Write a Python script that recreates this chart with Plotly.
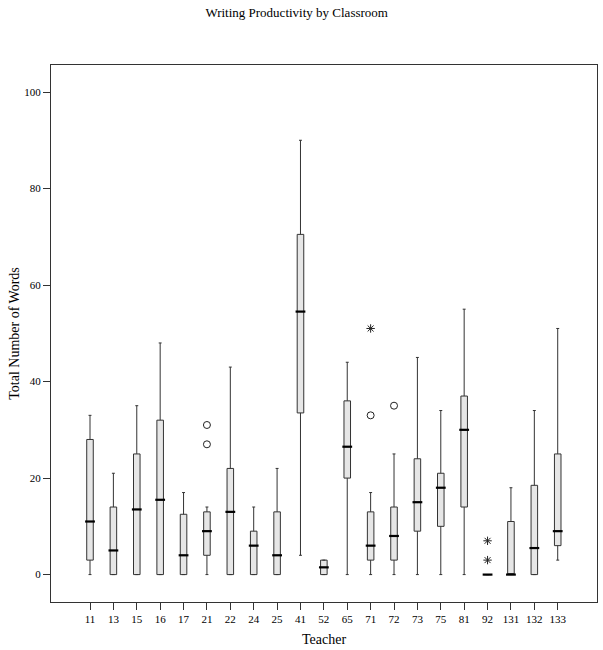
import plotly.graph_objects as go

teachers = ["11", "13", "15", "16", "17", "21", "22", "24", "25", "41",
            "52", "65", "71", "72", "73", "75", "81", "92", "131", "132", "133"]
lower = [0, 0, 0, 0, 0, 0, 0, 0, 0, 4, 0, 0, 0, 0, 0, 0, 0, 0, 0, 0, 3]
q1 = [3, 0, 0, 0, 0, 4, 0, 0, 0, 33.5, 0, 20, 3, 3, 9, 10, 14, 0, 0, 0, 6]
median = [11, 5, 13.5, 15.5, 4, 9, 13, 6, 4, 54.5, 1.5, 26.5, 6, 8, 15, 18, 30, 0, 0, 5.5, 9]
q3 = [28, 14, 25, 32, 12.5, 13, 22, 9, 13, 70.5, 3, 36, 13, 14, 24, 21, 37, 0, 11, 18.5, 25]
upper = [33, 21, 35, 48, 17, 14, 43, 14, 22, 90, 3, 44, 17, 25, 45, 34, 55, 0, 18, 34, 51]

circle_x = ["21", "21", "71", "72"]
circle_y = [31, 27, 33, 35]
star_x = ["71", "92", "92"]
star_y = [51, 7, 3]

FONT = "Liberation Serif"

fig = go.Figure()
fig.add_trace(go.Box(
    x=teachers, q1=q1, median=median, q3=q3,
    lowerfence=lower, upperfence=upper,
    boxpoints=False, width=0.28, whiskerwidth=0.45,
    fillcolor="#e6e6e6", line=dict(color="#333333", width=1),
    showlegend=False, hoverinfo="skip",
))
fig.add_trace(go.Scatter(
    x=teachers, y=median, mode="markers",
    marker=dict(symbol="line-ew-open", size=7, color="black", line=dict(color="black", width=2.2)),
    showlegend=False, hoverinfo="skip",
))
fig.add_trace(go.Scatter(
    x=circle_x, y=circle_y, mode="markers",
    marker=dict(symbol="circle-open", size=7, color="#222222", line=dict(color="#222222", width=1)),
    showlegend=False,
))
fig.add_trace(go.Scatter(
    x=star_x, y=star_y, mode="markers",
    marker=dict(symbol="asterisk-open", size=7, color="#222222", line=dict(color="#222222", width=1)),
    showlegend=False,
))

fig.update_layout(
    width=603, height=650,
    margin=dict(l=50.7, r=6.3, t=64.7, b=48.3),
    paper_bgcolor="white", plot_bgcolor="white",
    font=dict(family=FONT, color="black", size=11),
    title=dict(text="Writing Productivity by Classroom", font=dict(size=13, family=FONT, color="black"),
               xref="container", yref="container", x=0.492, y=1 - 12.7 / 650,
               xanchor="center", yanchor="middle"),
    xaxis=dict(type="category", categoryorder="array", categoryarray=teachers,
               range=[-1.668, 21.68], showline=True, mirror=True, linecolor="#333333", linewidth=1,
               ticks="outside", ticklen=7, tickcolor="#333333", showgrid=False,
               tickfont=dict(size=11, family=FONT)),
    yaxis=dict(range=[-5.68, 105.6], tickvals=[0, 20, 40, 60, 80, 100],
               showline=True, mirror=True, linecolor="#333333", linewidth=1,
               ticks="outside", ticklen=7, tickcolor="#333333", showgrid=False, zeroline=False,
               tickfont=dict(size=11, family=FONT)),
    annotations=[
        dict(text="Total Number of Words", xref="paper", yref="paper",
             x=(14 - 50.7) / 546, y=0.5, textangle=-90, showarrow=False,
             xanchor="center", yanchor="middle", font=dict(size=14, family=FONT, color="black")),
        dict(text="Teacher", xref="paper", yref="paper",
             x=0.5, y=-(639 - 601.7) / 537, showarrow=False,
             xanchor="center", yanchor="middle", font=dict(size=14, family=FONT, color="black")),
    ],
)

fig.write_html("out.html", config={"displayModeBar": False},
               post_script="document.body.style.margin='0';")
